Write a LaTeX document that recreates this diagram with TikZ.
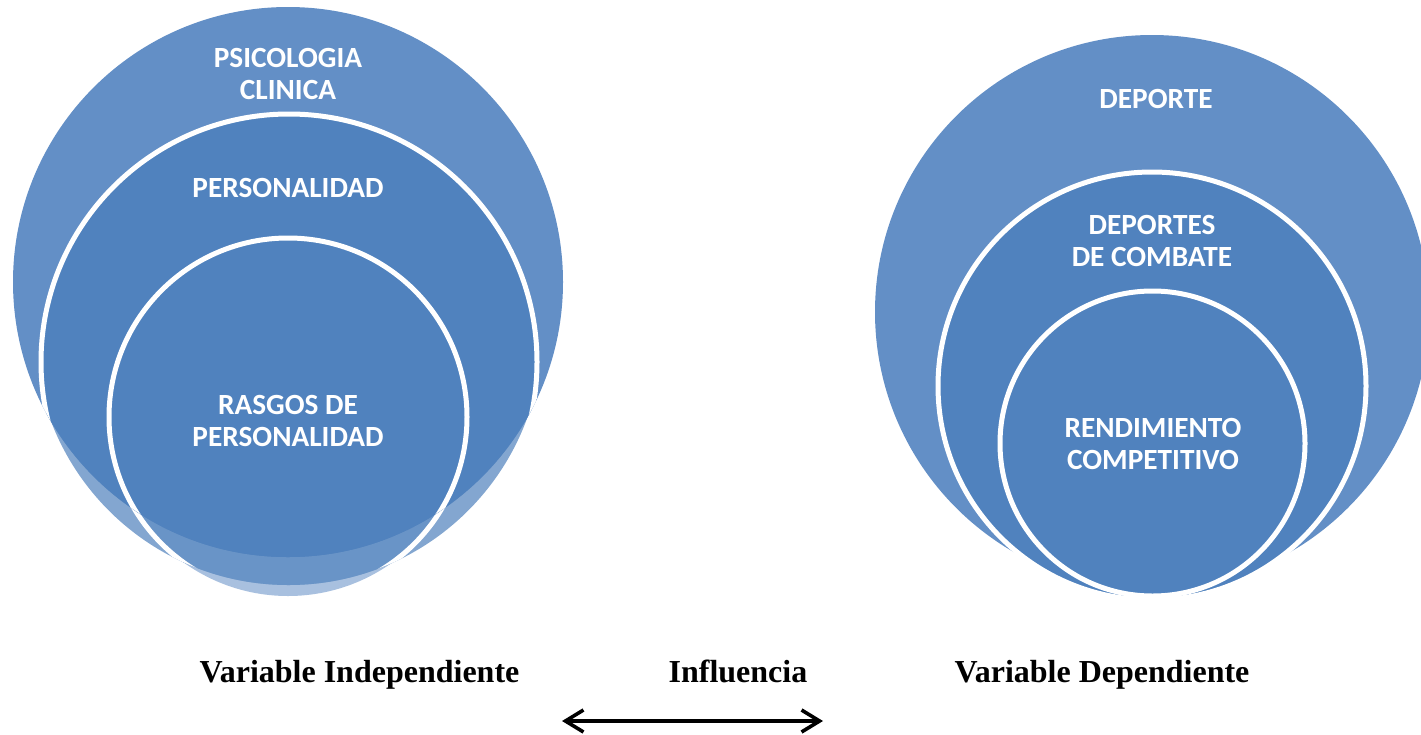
\documentclass[tikz,border=0pt]{standalone}
\usepackage{fontspec}
\setmainfont{Liberation Serif}
\newfontfamily\calib{Carlito}
\usetikzlibrary{arrows.meta}
\definecolor{outerC}{HTML}{638FC6}
\definecolor{darkC}{HTML}{5082BE}
\definecolor{bandC}{HTML}{83A6D0}
\definecolor{medC}{HTML}{6994C7}
\definecolor{lightestC}{HTML}{A8C0DF}
\begin{document}
\begin{tikzpicture}[x=1pt,y=-1pt,
  ringtxt/.style={text=white,font=\calib\bfseries\fontsize{29.3}{32}\selectfont,align=center,inner sep=0pt},
  vartxt/.style={font=\bfseries\fontsize{32}{36}\selectfont,anchor=base,inner sep=0pt},
  ring/.style={draw=white,line width=5pt},
  dbl/.style={line width=3.6pt,{Straight Barb[length=18pt,width=22pt]}-{Straight Barb[length=18pt,width=22pt]}}]
\useasboundingbox (0,0) rectangle (1421,734);
\clip (0,0) rectangle (1421,734);
% ---------- left group ----------
\fill[lightestC] (288,417) circle[radius=179];
\fill[bandC] (288.5,331) circle[radius=254];
\begin{scope}
  \clip (288.5,331) circle[radius=254];
  \path[fill=medC,ring] (288,417) circle[radius=179];
\end{scope}
\fill[outerC] (288,282) circle[radius=275];
\begin{scope}
  \clip (288,282) circle[radius=275];
  \path[fill=darkC,ring] (289,362) circle[radius=248];
  \path[fill=darkC,ring] (288,417) circle[radius=179];
\end{scope}
% ---------- right group ----------
\fill[outerC] (1152,312) circle[radius=277];
\path[fill=darkC,ring] (1152,386) circle[radius=214];
\path[fill=darkC,ring] (1152.5,443.5) circle[radius=152.5];
% ---------- texts ----------
\node[ringtxt] (psic) at (288,74) {PSICOLOGIA\\CLINICA};
\node[ringtxt] (pers) at (288,188) {PERSONALIDAD};
\node[ringtxt] (rasg) at (288,420.5) {RASGOS DE\\PERSONALIDAD};
\node[ringtxt] (dep) at (1156,99) {DEPORTE};
\node[ringtxt] (comb) at (1152,241) {DEPORTES\\DE COMBATE};
\node[ringtxt] (rend) at (1153,444) {RENDIMIENTO\\COMPETITIVO};
\node[vartxt] (vi) at (359.5,682) {Variable Independiente};
\node[vartxt] (inf) at (738,682) {Influencia};
\node[vartxt] (vd) at (1102,682) {Variable Dependiente};
% ---------- arrow ----------
\coordinate (arL) at (562,721);
\coordinate (arR) at (823,721);
\draw[dbl] (arL) -- (arR);
\end{tikzpicture}
\end{document}
